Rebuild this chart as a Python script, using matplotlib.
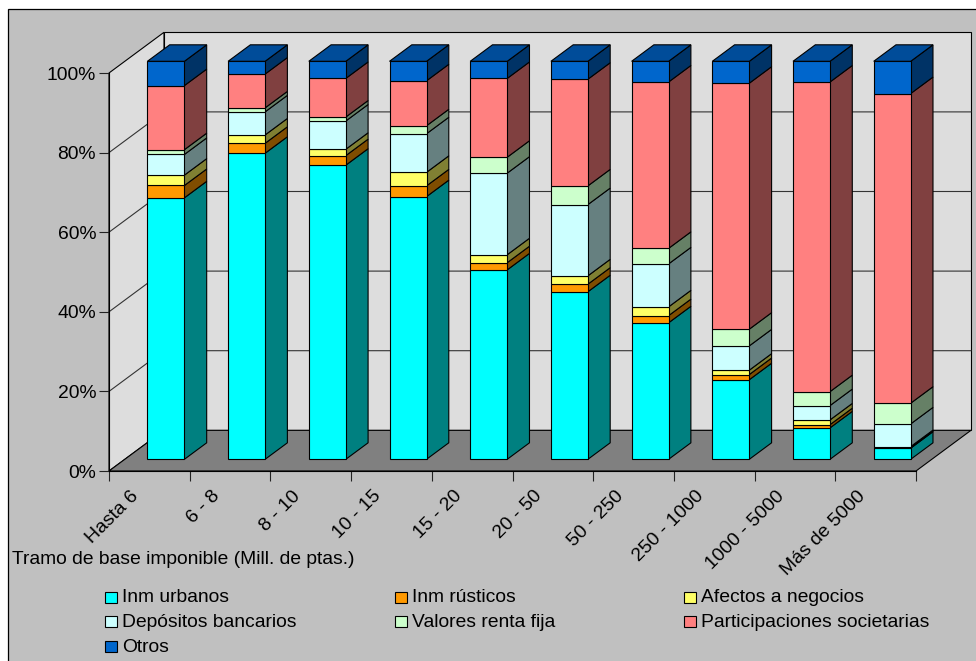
import matplotlib
matplotlib.use("Agg")
import matplotlib.pyplot as plt
import numpy as np
from matplotlib.patches import Polygon, Rectangle
from matplotlib.transforms import Affine2D, ScaledTranslation

plt.rcParams["font.family"] = ["Liberation Sans", "DejaVu Sans"]

W, H = 976, 661

tramos = ["Hasta 6", "6 - 8", "8 - 10", "10 - 15", "15 - 20", "20 - 50",
          "50 - 250", "250 - 1000", "1000 - 5000", "Más de 5000"]

inm_urbanos = [65.7, 76.9, 73.9, 66.0, 47.6, 42.1, 34.3, 20.0, 7.9, 2.8]
inm_rusticos = [3.1, 2.5, 2.4, 2.7, 1.8, 1.9, 1.8, 1.3, 0.8, 0.2]
afectos = [2.6, 2.1, 1.6, 3.4, 2.0, 2.1, 2.2, 1.1, 1.2, 0.2]
depositos = [5.2, 5.8, 7.1, 9.7, 20.5, 17.9, 10.8, 6.1, 3.6, 5.7]
valores = [1.2, 1.0, 1.0, 2.0, 4.0, 4.7, 3.9, 4.2, 3.5, 5.2]
participaciones = [16.1, 8.5, 9.7, 11.3, 19.8, 26.8, 41.8, 61.8, 77.8, 77.8]
otros = [6.1, 3.2, 4.3, 4.9, 4.3, 4.5, 5.2, 5.5, 5.2, 8.1]

series = [inm_urbanos, inm_rusticos, afectos, depositos, valores, participaciones, otros]
nombres = ["Inm urbanos", "Inm rústicos", "Afectos a negocios", "Depósitos bancarios",
           "Valores renta fija", "Participaciones societarias", "Otros"]
caras = ["#00FFFF", "#FF9900", "#FFFF66", "#CCFFFF", "#CCFFCC", "#FF8080", "#0066CC"]
lados = ["#008080", "#804D00", "#808033", "#668080", "#668066", "#804040", "#003366"]
TAPA = "#004C99"

# axes box is the front plane of the 3D look: 0-10 categories, 0-100 percent
X0, X1, Y0, Y1 = 109, 916, 471, 73
UX = (X1 - X0) / 10
UY = (Y0 - Y1) / 100
DX = 55 / UX      # full depth shift, in data units
DY = 40.7 / UY
D_FRONT = 0.2875  # depth of the bar faces
D_BACK = 0.6925
BAR_X = 0.28
BAR_W = 0.4585
FS = 13.85


def pt(x, y, d=0.0):
    return (x + d * DX, y + d * DY)


fig = plt.figure(figsize=(W / 100, H / 100), dpi=100, facecolor="white")
ax = fig.add_axes([X0 / W, 1 - Y0 / H, (X1 - X0) / W, (Y0 - Y1) / H])
ax.set_xlim(0, 10)
ax.set_ylim(0, 100)
ax.patch.set_visible(False)

# pixel coordinates for the frame, axis title and legend
px = Affine2D().scale(1 / W, -1 / H).translate(0, 1) + fig.transFigure

fig.add_artist(Rectangle((7.5, 9), W, H, transform=px, facecolor="#C0C0C0",
                         edgecolor="black", linewidth=0.9, zorder=-5))


def poly(points, color, edge="black", lw=0.8, z=2):
    ax.add_patch(Polygon(points, closed=True, facecolor=color, edgecolor=edge,
                         linewidth=lw, zorder=z, clip_on=False, joinstyle="miter"))


# walls and floor
poly([pt(0, 0), pt(0, 100), pt(0, 100, 1), pt(0, 0, 1)], "#DDDDDD", z=1)
poly([pt(0, 0, 1), pt(0, 100, 1), pt(10, 100, 1), pt(10, 0, 1)], "#DDDDDD", z=1)
poly([pt(0, 0), pt(10, 0), pt(10, 0, 1), pt(0, 0, 1)], "#808080", z=1)

# gridlines run across the left wall and the back wall
for v in range(20, 100, 20):
    xs, ys = zip(pt(0, v), pt(0, v, 1), pt(10, v, 1))
    ax.plot(xs, ys, color="#333333", lw=0.8, zorder=1.5, clip_on=False)

# stacked bars, left to right, bottom to top
for i in range(len(tramos)):
    x0 = i + BAR_X
    x1 = x0 + BAR_W
    base = 0.0
    for valores_s, cara, lado in zip(series, caras, lados):
        top = base + valores_s[i]
        poly([pt(x1, base, D_FRONT), pt(x1, base, D_BACK), pt(x1, top, D_BACK), pt(x1, top, D_FRONT)], lado)
        poly([pt(x0, base, D_FRONT), pt(x1, base, D_FRONT), pt(x1, top, D_FRONT), pt(x0, top, D_FRONT)], cara)
        base = top
    poly([pt(x0, base, D_FRONT), pt(x1, base, D_FRONT), pt(x1, base, D_BACK), pt(x0, base, D_BACK)], TAPA)

# axes
for side in ["top", "right"]:
    ax.spines[side].set_visible(False)
for side in ["left", "bottom"]:
    ax.spines[side].set_linewidth(0.8)
    ax.spines[side].set_zorder(3)

ax.set_yticks(range(0, 101, 20))
ax.set_yticklabels([f"{v}%" for v in range(0, 101, 20)])
ax.tick_params(axis="y", length=7.2, width=0.8, pad=2, labelsize=FS, color="#222222")
ax.set_xticks(range(0, 11))
ax.set_xticklabels([])
ax.tick_params(axis="x", which="major", length=7.2, width=0.8, color="#222222")
ax.set_xticks(np.arange(10) + 0.5, minor=True)
ax.set_xticklabels(tramos, minor=True, rotation=45, ha="right", va="top",
                   rotation_mode="anchor", fontsize=FS)
ax.tick_params(axis="x", which="minor", length=0, pad=12)
shift = ScaledTranslation(-19 / 100, 0, fig.dpi_scale_trans)
for lab in ax.get_xticklabels(minor=True):
    lab.set_transform(lab.get_transform() + shift)

fig.text(12, 560, "Tramo de base imponible (Mill. de ptas.)", transform=px,
         fontsize=FS, ha="left", va="center")

# legend, three columns filled row by row
for k, (nombre, cara) in enumerate(zip(nombres, caras)):
    col, row = k % 3, k // 3
    lx = 105 + col * 289.5
    ly = 591.5 + row * 24.8
    fig.add_artist(Rectangle((lx, ly), 12, 11, transform=px, facecolor=cara,
                             edgecolor="black", linewidth=0.8))
    fig.text(lx + 17, ly + 6.5, nombre, transform=px, fontsize=FS, ha="left", va="center")

fig.savefig("out.png", dpi=100, facecolor="white")
plt.close(fig)
